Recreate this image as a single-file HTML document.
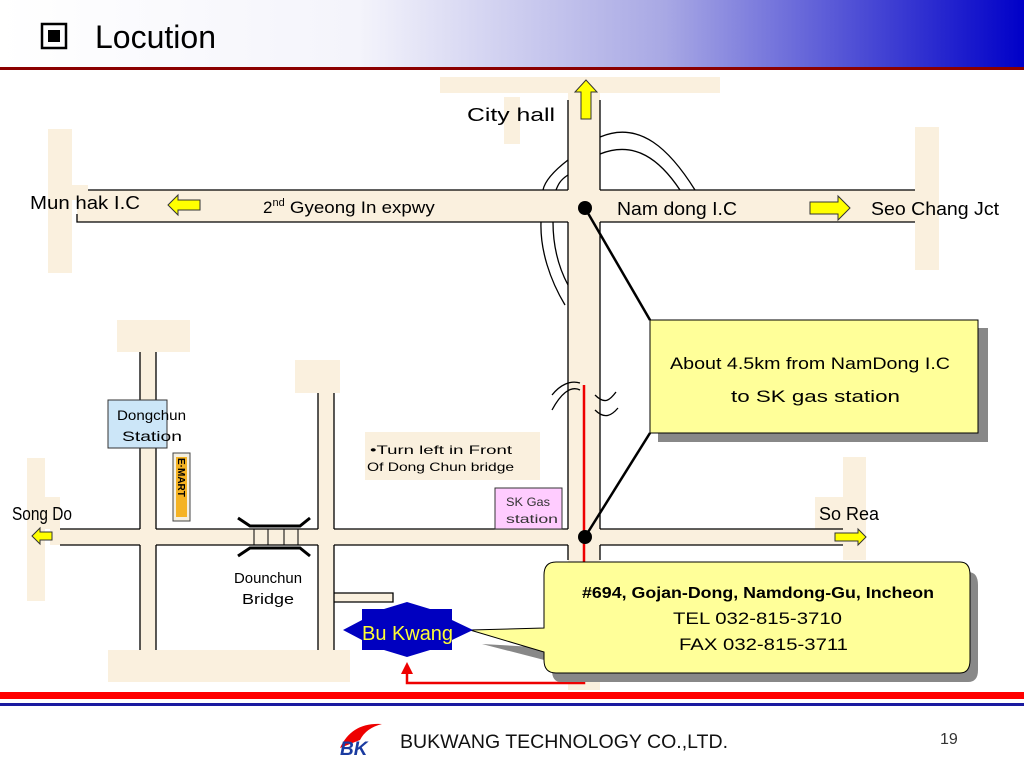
<!DOCTYPE html>
<html><head><meta charset="utf-8"><style>
html,body{margin:0;padding:0;background:#fff}
svg{display:block}
text{font-family:"Liberation Sans","NanumGothic",sans-serif}
</style></head><body>
<svg width="1024" height="768" viewBox="0 0 1024 768" xmlns="http://www.w3.org/2000/svg">
<defs>
<linearGradient id="hg" x1="0" x2="1" y1="0" y2="0">
<stop offset="0" stop-color="#ffffff"/><stop offset="0.35" stop-color="#f4f4fb"/><stop offset="0.65" stop-color="#a8a8e4"/><stop offset="1" stop-color="#0000c8"/>
</linearGradient>
</defs>
<rect x="0" y="0" width="1024" height="68" fill="url(#hg)"/>
<rect x="0" y="67" width="1024" height="3" fill="#8b0000"/>
<rect x="42" y="24" width="24" height="24" fill="none" stroke="#000" stroke-width="2.5"/>
<rect x="48" y="30" width="12" height="12" fill="#000"/>
<text x="95" y="48" font-size="32" fill="#000">Locution</text>

<g fill="#faf0de">
<rect x="440" y="77" width="280" height="16"/>
<rect x="504" y="97" width="16" height="47"/>
<rect x="48" y="129" width="24" height="144"/>
<rect x="915" y="127" width="24" height="143"/>
<rect x="70" y="185" width="18" height="15"/>
<rect x="77" y="190" width="838" height="32"/>
<rect x="568" y="93" width="32" height="597"/>
<rect x="117" y="320" width="73" height="32"/>
<rect x="295" y="360" width="45" height="33"/>
<rect x="140" y="352" width="16" height="300"/>
<rect x="318" y="393" width="16" height="260"/>
<rect x="27" y="458" width="18" height="143"/>
<rect x="45" y="497" width="15" height="32"/>
<rect x="843" y="457" width="23" height="103"/>
<rect x="815" y="497" width="28" height="32"/>
<rect x="50" y="529" width="793" height="16"/>
<rect x="108" y="650" width="242" height="32"/>
<rect x="334" y="593" width="59" height="9"/>
<rect x="365" y="432" width="175" height="48"/>
</g>
<g stroke="#000" stroke-width="1.3" fill="none">
<path d="M88 190H568M600 190H915"/>
<path d="M77 214V222H568M600 222H915"/>
<path d="M568 100V190M600 100V190M568 222V529M600 222V529M568 545V560M600 545V560"/>
<path d="M60 529H140M156 529H318M334 529H568M600 529H843"/>
<path d="M60 545H140M156 545H318M334 545H568M600 545H843"/>
<path d="M140 352V529M156 352V529M140 545V650M156 545V650"/>
<path d="M318 393V529M334 393V529M318 545V650M334 545V650"/>
<path d="M334 593H393V602H334"/>
<path d="M600 137C640 120 670 150 695 190M600 154C635 140 660 160 680 190"/>
<path d="M568 160C555 170 545 180 543 190M568 175C560 180 558 185 556 190"/>
<path d="M541 222C540 250 550 280 565 305M553 222C553 250 560 270 568 285"/>
<path d="M552 410C560 395 570 385 580 390M552 395C560 385 570 380 580 383M595 395C605 405 610 400 616 392M595 410C605 420 612 415 618 408"/>
</g>
<g stroke="#000" fill="none">
<path d="M238 518L250 526H300L310 518M238 556L250 548H300L310 556" stroke-width="3"/>
<path d="M254 529V545M268 529V545M284 529V545M298 529V545" stroke-width="1"/>
</g>
<path d="M584 385V683H407V672" stroke="#e00" stroke-width="2.5" fill="none"/>
<path d="M401 674L407 662L413 674Z" fill="#e00"/>
<line x1="585" y1="208" x2="650" y2="320" stroke="#000" stroke-width="2.5"/>
<line x1="650" y1="433" x2="585" y2="537" stroke="#000" stroke-width="2.5"/>
<rect x="658" y="328" width="330" height="114" fill="#888"/>
<rect x="650" y="320" width="328" height="113" fill="#ffff99" stroke="#000" stroke-width="1"/>
<text x="670" y="369" font-size="17" textLength="280" lengthAdjust="spacingAndGlyphs">About 4.5km from NamDong I.C</text>
<text x="731" y="402" font-size="17" textLength="169" lengthAdjust="spacingAndGlyphs">to SK gas station</text>
<circle cx="585" cy="208" r="7" fill="#000"/>
<circle cx="585" cy="537" r="7" fill="#000"/>
<path d="M561 572H968Q978 572 978 585V670Q978 682 968 682H561Q552 682 552 670V662L482 644L552 648V585Q552 572 561 572Z" fill="#888"/>
<path d="M556 562H960Q970 562 970 575V660Q970 673 960 673H556Q544 673 544 660V652L470 630L544 628V575Q544 562 556 562Z" fill="#ffff99" stroke="#000" stroke-width="1"/>
<text x="582" y="598" font-size="16" font-weight="bold" textLength="352" lengthAdjust="spacingAndGlyphs">#694, Gojan-Dong, Namdong-Gu,  Incheon</text>
<text x="673" y="624" font-size="17" textLength="169" lengthAdjust="spacingAndGlyphs">TEL   032-815-3710</text>
<text x="679" y="650" font-size="17" textLength="169" lengthAdjust="spacingAndGlyphs">FAX   032-815-3711</text>
<path d="M343 630L362 620V609H384L407 602L430 609H452V620L473 630L452 640V650H430L407 657L384 650H362V640Z" fill="#0000c0"/>
<text x="362" y="640" font-size="20" fill="#ffff33" textLength="91" lengthAdjust="spacingAndGlyphs">Bu Kwang</text>
<rect x="108" y="400" width="59" height="48" fill="#cce6f8" stroke="#333" stroke-width="1"/>
<text x="117" y="420" font-size="14" textLength="69" lengthAdjust="spacingAndGlyphs">Dongchun</text>
<text x="122" y="441" font-size="14" textLength="60" lengthAdjust="spacingAndGlyphs">Station</text>
<rect x="173" y="453" width="17" height="68" fill="#f4efe0" stroke="#444" stroke-width="1"/>
<rect x="176" y="457" width="11" height="60" fill="#f5b323"/>
<text x="0" y="0" font-size="10" font-weight="bold" transform="translate(178,458) rotate(90)">E·MART</text>
<text x="370" y="454" font-size="12" textLength="142" lengthAdjust="spacingAndGlyphs">•Turn left in Front</text>
<text x="367" y="471" font-size="12" textLength="147" lengthAdjust="spacingAndGlyphs">Of Dong Chun bridge</text>
<rect x="495" y="488" width="67" height="41" fill="#ffccff" stroke="#333" stroke-width="1"/>
<text x="506" y="506" font-size="12" fill="#333" textLength="44" lengthAdjust="spacingAndGlyphs">SK Gas</text>
<text x="506" y="523" font-size="12" fill="#333" textLength="52" lengthAdjust="spacingAndGlyphs">station</text>
<g fill="#ffff00" stroke="#333" stroke-width="1">
<path d="M168 205L178 195V200H200V210H178V215Z"/>
<path d="M850 208L838 196V202H810V214H838V220Z"/>
<path d="M586 80L575 92H581V119H591V92H597Z"/>
<path d="M32 536L40 528V532H52V540H40V544Z"/>
<path d="M866 537L858 529V533H835V541H858V545Z"/>
</g>
<text x="30" y="209" font-size="18" textLength="110" lengthAdjust="spacingAndGlyphs">Mun hak I.C</text>
<text x="263" y="213" font-size="17">2<tspan font-size="11" dy="-7">nd</tspan><tspan dy="7" textLength="150" lengthAdjust="spacingAndGlyphs"> Gyeong In expwy</tspan></text>
<text x="467" y="121" font-size="18" textLength="88" lengthAdjust="spacingAndGlyphs">City hall</text>
<text x="617" y="215" font-size="18" textLength="120" lengthAdjust="spacingAndGlyphs">Nam dong I.C</text>
<text x="871" y="215" font-size="18" textLength="128" lengthAdjust="spacingAndGlyphs">Seo Chang Jct</text>
<text x="12" y="520" font-size="18" textLength="60" lengthAdjust="spacingAndGlyphs">Song Do</text>
<text x="819" y="520" font-size="18" textLength="60" lengthAdjust="spacingAndGlyphs">So Rea</text>
<text x="234" y="583" font-size="15" textLength="68" lengthAdjust="spacingAndGlyphs">Dounchun</text>
<text x="242" y="604" font-size="15" textLength="52" lengthAdjust="spacingAndGlyphs">Bridge</text>
<rect x="0" y="692" width="1024" height="7" fill="#ff0000"/>
<rect x="0" y="703" width="1024" height="3" fill="#1a1aa0"/>
<path d="M340 748Q352 722 382 724Q366 728 360 740Z" fill="#e00"/>
<text x="340" y="755" font-size="19" font-weight="bold" font-style="italic" fill="#1a3ba0">BK</text>
<text x="400" y="748" font-size="19" fill="#111" textLength="328" lengthAdjust="spacingAndGlyphs">BUKWANG TECHNOLOGY CO.,LTD.</text>
<text x="940" y="744" font-size="16" fill="#333">19</text>
</svg>
</body></html>
